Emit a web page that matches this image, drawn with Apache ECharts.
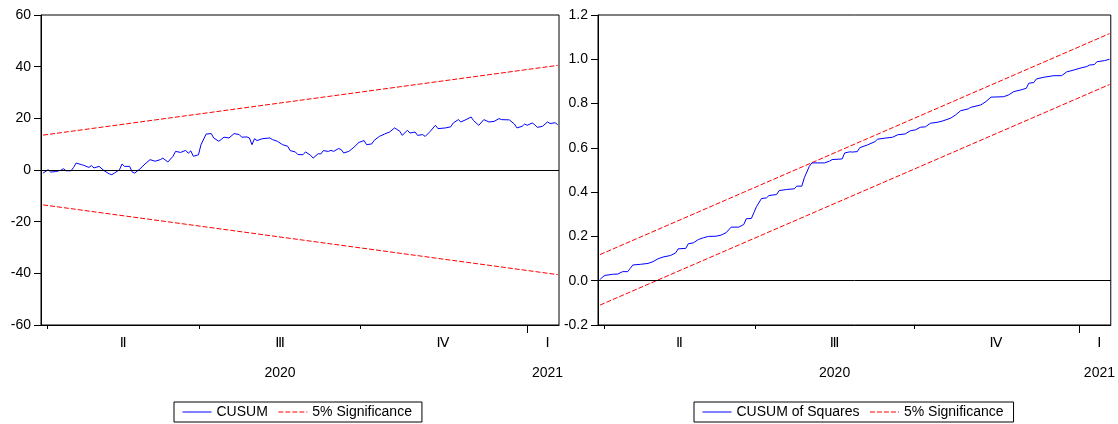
<!DOCTYPE html>
<html>
<head>
<meta charset="utf-8">
<script src="https://cdn.jsdelivr.net/npm/echarts@6/dist/echarts.min.js"></script>
<style>html,body{margin:0;padding:0;background:#fff}#c{width:1118px;height:424px}</style>
</head>
<body>
<div id="c"></div>
<script>
// ---- data (observation index = position in sample, 203 observations) ----
const obsMin = -0.8, obsMax = 202.5;
const quarterTicks = [1.5, 61.5, 124.5];
const yearTicks = [190];
const quarterLabelPos = [31.5, 93, 157, 198];
const quarterLabelText = ['Ⅱ', 'Ⅲ', 'Ⅳ', 'Ⅰ'];
const yearLabelPos = [93, 198];
const yearLabelText = ['2020', '2021'];

const cusumObs = [0,2,3,5,7,8,9,11,12,13,15,16,18,19,20,22,24,26,27,28,30,31,32,34,35,36,38,40,42,44,46,47,49,51,52,54,56,57,58,59,61,62,64,66,67,69,71,73,75,77,78,80,81,82,83,84,86,89,90,92,94,96,97,99,100,102,103,105,106,108,109,110,112,113,114,116,117,118,120,122,124,126,127,129,130,132,134,136,138,140,141,143,144,146,147,149,150,152,154,155,158,160,161,163,164,166,168,169,171,173,175,177,179,180,183,185,186,188,189,190,192,193,194,196,198,199,201,202];
const cusum = [-1.2,0.1,-0.8,-0.6,-0.1,0.5,-0.3,-0.3,1.0,2.7,2.1,1.8,1.0,1.7,0.8,1.4,-0.3,-1.5,-1.8,-1.2,0.1,2.3,1.4,1.4,-0.8,-1.2,0.4,2.3,4.0,3.4,4.0,4.6,3.1,5.3,7.2,6.8,7.6,6.5,7.4,5.3,5.9,9.8,13.9,14.1,12.4,11.1,12.7,12.4,14.1,13.7,12.7,12.8,12.4,9.8,12.1,11.4,12.1,12.4,11.8,11.1,9.8,9.2,7.5,7.0,6.0,5.9,7.0,5.7,4.6,6.3,6.2,7.5,7.2,7.6,7.2,8.3,7.9,6.6,7.2,8.8,10.7,11.4,9.8,10.1,11.5,13.0,13.9,14.7,16.3,15.0,13.4,15.4,14.3,14.7,13.4,13.7,13.0,15.0,17.3,16.0,16.3,16.7,18.2,19.5,18.6,19.5,20.5,19.1,17.3,19.5,18.6,18.8,19.9,19.5,19.4,17.8,16.3,16.9,17.8,17.3,18.2,17.5,16.5,16.9,18.6,18.0,18.3,17.5];

const sqObs = [0,1,2,5,7,9,11,12,13,16,19,21,23,25,28,30,31,34,35,37,39,41,43,46,48,50,52,55,57,58,60,61,62,64,66,67,70,71,74,77,78,80,81,83,84,89,91,92,96,97,99,100,102,103,106,109,110,113,116,118,121,123,125,127,129,131,134,136,139,141,143,146,147,151,153,155,160,162,164,167,169,170,172,173,176,180,183,185,188,191,193,194,196,197,200,202];
const cusumSq = [0.005,0.017,0.024,0.029,0.030,0.041,0.041,0.056,0.071,0.074,0.078,0.086,0.099,0.107,0.114,0.126,0.144,0.146,0.167,0.171,0.186,0.194,0.200,0.201,0.206,0.217,0.242,0.242,0.254,0.280,0.281,0.307,0.334,0.371,0.374,0.385,0.389,0.407,0.412,0.415,0.427,0.427,0.465,0.517,0.532,0.532,0.540,0.547,0.550,0.577,0.582,0.581,0.583,0.601,0.613,0.628,0.639,0.644,0.648,0.659,0.663,0.677,0.681,0.693,0.695,0.711,0.716,0.722,0.734,0.749,0.768,0.776,0.783,0.794,0.809,0.829,0.831,0.839,0.854,0.862,0.869,0.892,0.895,0.911,0.919,0.926,0.926,0.943,0.952,0.962,0.967,0.974,0.976,0.989,0.994,1.000];

const sigObs = [0, 202];
const cusumUpper = [13.5, 40.5];
const cusumLower = [-13.5, -40.5];
const sqUpper = [0.118, 1.116];
const sqLower = [-0.110, 0.886];

// ---- chart ----
const FONT = "'Liberation Sans', Arial, 'DejaVu Sans', sans-serif";
const FS = 14;
const pairs = (xs, ys) => xs.map((x, i) => [x, ys[i]]);
const BLUE = '#0000ff', RED = '#ff0000';

function xAxes(g) {
  const base = {type: 'value', gridIndex: g, min: obsMin, max: obsMax, position: 'bottom', splitLine: {show: false}};
  return [
    Object.assign({}, base, {
      axisLine: {show: true, onZero: false, lineStyle: {color: '#000', width: 1}},
      axisTick: {show: true, customValues: quarterTicks, length: 4, lineStyle: {color: '#000'}},
      axisLabel: {customValues: quarterLabelPos, formatter: v => quarterLabelText[quarterLabelPos.indexOf(v)],
                  margin: 11, color: '#000', fontSize: FS, fontFamily: FONT}
    }),
    Object.assign({}, base, {
      axisLine: {show: false, onZero: false},
      axisTick: {show: true, customValues: yearTicks, length: 8, lineStyle: {color: '#000'}},
      axisLabel: {customValues: yearLabelPos, formatter: v => yearLabelText[yearLabelPos.indexOf(v)],
                  margin: 41, color: '#000', fontSize: FS, fontFamily: FONT}
    })
  ];
}
function yAxis(g, min, max, step, dec) {
  return {
    type: 'value', gridIndex: g, min: min, max: max, interval: step,
    axisLine: {show: true, onZero: false, lineStyle: {color: '#000', width: 1}},
    axisTick: {show: true, length: 7, lineStyle: {color: '#000'}},
    axisLabel: {margin: 10, color: '#000', fontSize: FS, fontFamily: FONT, formatter: v => v.toFixed(dec)},
    splitLine: {show: false}
  };
}
const zeroLine = {silent: true, symbol: ['none', 'none'], label: {show: false},
  lineStyle: {color: '#000', type: 'solid', width: 1}, data: [{yAxis: 0}]};
function lineSeries(name, xi, yi, data, color, dashed, mark) {
  const s = {name: name, type: 'line', xAxisIndex: xi, yAxisIndex: yi, data: data,
    symbol: 'none', showSymbol: false, smooth: false,
    lineStyle: {color: color, width: 1, type: dashed ? [5, 2] : 'solid'},
    itemStyle: {color: color}, z: dashed ? 3 : 4};
  if (mark) s.markLine = zeroLine;
  return s;
}
function legend(names, left) {
  return {data: names, left: left, top: 402, itemWidth: 29, itemHeight: 14, itemGap: 10,
    padding: [3, 10, 3, 8], borderColor: '#000', borderWidth: 1, selectedMode: false,
    itemStyle: {opacity: 0, color: 'transparent', borderColor: 'transparent', borderWidth: 0},
    lineStyle: {width: 1},
    textStyle: {fontSize: FS, color: '#000', fontFamily: FONT}};
}

const option = {
  animation: false,
  backgroundColor: '#fff',
  grid: [
    {left: 41, top: 15, width: 518, height: 310, show: true, borderColor: '#000', borderWidth: 1},
    {left: 598, top: 15, width: 517, height: 310, show: true, borderColor: '#000', borderWidth: 1}
  ],
  xAxis: xAxes(0).concat(xAxes(1)),
  yAxis: [yAxis(0, -60, 60, 20, 0), yAxis(1, -0.2, 1.2, 0.2, 1)],
  legend: [
    legend(['CUSUM', '5% Significance'], 174),
    legend(['CUSUM of Squares', '5% Significance'], 694)
  ],
  series: [
    lineSeries('CUSUM', 0, 0, pairs(cusumObs, cusum), BLUE, false, true),
    lineSeries('5% Significance', 0, 0, pairs(sigObs, cusumUpper), RED, true),
    lineSeries('5% Significance', 0, 0, pairs(sigObs, cusumLower), RED, true),
    lineSeries('CUSUM of Squares', 2, 1, pairs(sqObs, cusumSq), BLUE, false, true),
    lineSeries('5% Significance', 2, 1, pairs(sigObs, sqUpper), RED, true),
    lineSeries('5% Significance', 2, 1, pairs(sigObs, sqLower), RED, true)
  ]
};
const chart = echarts.init(document.getElementById('c'), null, {renderer: 'canvas'});
chart.setOption(option);
</script>
</body>
</html>
